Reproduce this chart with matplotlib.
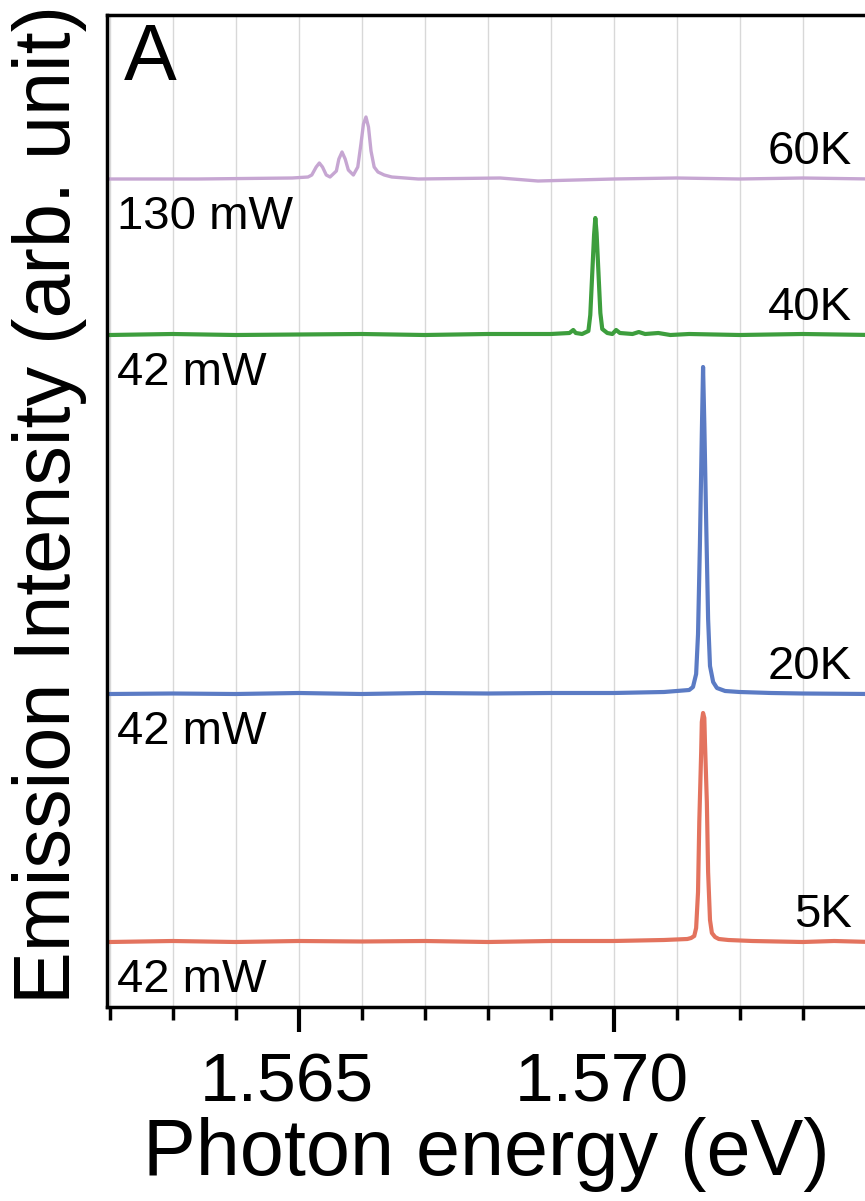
import numpy as np
import matplotlib.pyplot as plt
from matplotlib.ticker import MultipleLocator, FixedLocator
from matplotlib.transforms import ScaledTranslation

plt.rcParams['font.family'] = ['Liberation Sans', 'DejaVu Sans']

# photoluminescence spectra, energy in eV, intensity in arb. units
e_5K = [1.5620, 1.5630, 1.5640, 1.5650, 1.5660, 1.5670, 1.5680, 1.5690, 1.5700,
        1.5708, 1.57117, 1.57123, 1.57128, 1.57131, 1.57134, 1.57136, 1.57139,
        1.57140, 1.57142, 1.57144, 1.57145, 1.57148, 1.57150, 1.57153, 1.57156,
        1.57161, 1.57167, 1.57182, 1.5722, 1.5730, 1.5735, 1.5741]
i_5K = [0, 1, 0, 1, 0.5, 1, 0, 1, 1,
        2, 3, 4, 6, 14, 50, 120, 190,
        220, 229, 224, 200, 140, 70, 22, 9,
        5, 3, 2, 1, 0, 1, 0]

e_20K = [1.5620, 1.5630, 1.5640, 1.5650, 1.5660, 1.5670, 1.5680, 1.5690, 1.5700,
         1.5708, 1.5712, 1.57126, 1.57131, 1.57134, 1.57137, 1.57140, 1.57142,
         1.57144, 1.57147, 1.57150, 1.57153, 1.57158, 1.57164, 1.57177, 1.5720,
         1.5725, 1.5730, 1.5741]
i_20K = [0, 0.5, 0, 1, 0, 1, 0.5, 1, 1,
         2, 4, 7, 20, 60, 150, 260, 327,
         270, 170, 75, 28, 12, 6, 3, 2,
         1, 0.5, 0]

e_40K = [1.5620, 1.5630, 1.5640, 1.5650, 1.5660, 1.5670, 1.5680, 1.5690, 1.5693,
         1.56936, 1.5694, 1.5695, 1.56960, 1.56963, 1.56966, 1.56969, 1.56971,
         1.56973, 1.56976, 1.56979, 1.56982, 1.5699, 1.56998, 1.57004, 1.5701,
         1.5703, 1.5704, 1.5705, 1.57071, 1.5709, 1.5712, 1.5720, 1.5730, 1.5741]
i_40K = [0, 1, 0, 0.5, 1, 0, 1, 1, 2,
         5, 2, 1, 4, 20, 60, 100, 117,
         102, 62, 22, 6, 2, 1, 5, 2,
         1, 3, 1, 2, 0, 1, 0, 1, 0]

e_60K = [1.5620, 1.5634, 1.5649, 1.56515, 1.56521, 1.56528, 1.56533, 1.56538,
         1.56544, 1.5655, 1.5656, 1.56564, 1.56569, 1.56574, 1.56579, 1.56587,
         1.56594, 1.56599, 1.56603, 1.56607, 1.56611, 1.56615, 1.5662, 1.56626,
         1.56636, 1.56648, 1.5669, 1.5682, 1.5688, 1.5700, 1.5710, 1.5720,
         1.5730, 1.5741]
i_60K = [0, 0, 1, 2, 4, 12, 16, 12,
         4, 2, 8, 20, 27, 20, 9, 4,
         12, 35, 55, 62, 52, 28, 12, 7,
         4, 2, 0, 1, -2, 0, 1, 0,
         1, 0]

spectra = [(e_5K, i_5K), (e_20K, i_20K), (e_40K, i_40K), (e_60K, i_60K)]
temps = ['5K', '20K', '40K', '60K']
powers = ['42 mW', '42 mW', '42 mW', '130 mW']
offsets = [65, 313, 672, 828]
colors = ['#e3735e', '#5b7bc4', '#3d9e3d', '#c6a6d2']
widths = [3.0, 3.0, 3.0, 2.4]

fig = plt.figure(figsize=(8.65, 12.01), dpi=100)
ax = fig.add_axes([107 / 865, 194 / 1201, 1 - 107 / 865, 992 / 1201])

for (e, inten), off, c, lw, t, p in zip(spectra, offsets, colors, widths, temps, powers):
    ax.plot(e, np.array(inten) + off, color=c, lw=lw, solid_joinstyle='round')
    ax.text(1.57378, off + 5, t, ha='right', va='bottom', fontsize=34)
    ax.text(1.56212, off - 16, p, ha='left', va='top', fontsize=34)

ax.text(1.56222, 985, 'A', ha='left', va='top', fontsize=57)

ax.set_xlim(1.56196, 1.57399)
ax.set_ylim(0, 992)

ax.xaxis.set_major_locator(FixedLocator([1.565, 1.570]))
ax.xaxis.set_minor_locator(MultipleLocator(0.001))
ax.set_xticklabels(['1.565', '1.570'])
ax.set_yticks([])
ax.grid(True, axis='x', which='both', color='#d8d8d8', lw=1.0)
ax.tick_params(axis='x', which='major', length=18, width=3, labelsize=50, pad=14)
ax.tick_params(axis='x', which='minor', length=9, width=2.5)

# tick labels sit a little left of their ticks
shift = ScaledTranslation(-12 / 100, 0, fig.dpi_scale_trans)
for lab in ax.get_xticklabels():
    lab.set_transform(lab.get_transform() + shift)

for side in ['top', 'left', 'bottom']:
    ax.spines[side].set_linewidth(2.5)
ax.spines['right'].set_visible(False)

fig.text(486 / 865, 1 - 1155 / 1201, 'Photon energy (eV)', ha='center', va='center',
         fontsize=57)
fig.text(50 / 865, 1 - 505 / 1201, 'Emission Intensity (arb. unit)', ha='center',
         va='center', rotation=90, fontsize=57)

fig.savefig('out.png', dpi=100)
